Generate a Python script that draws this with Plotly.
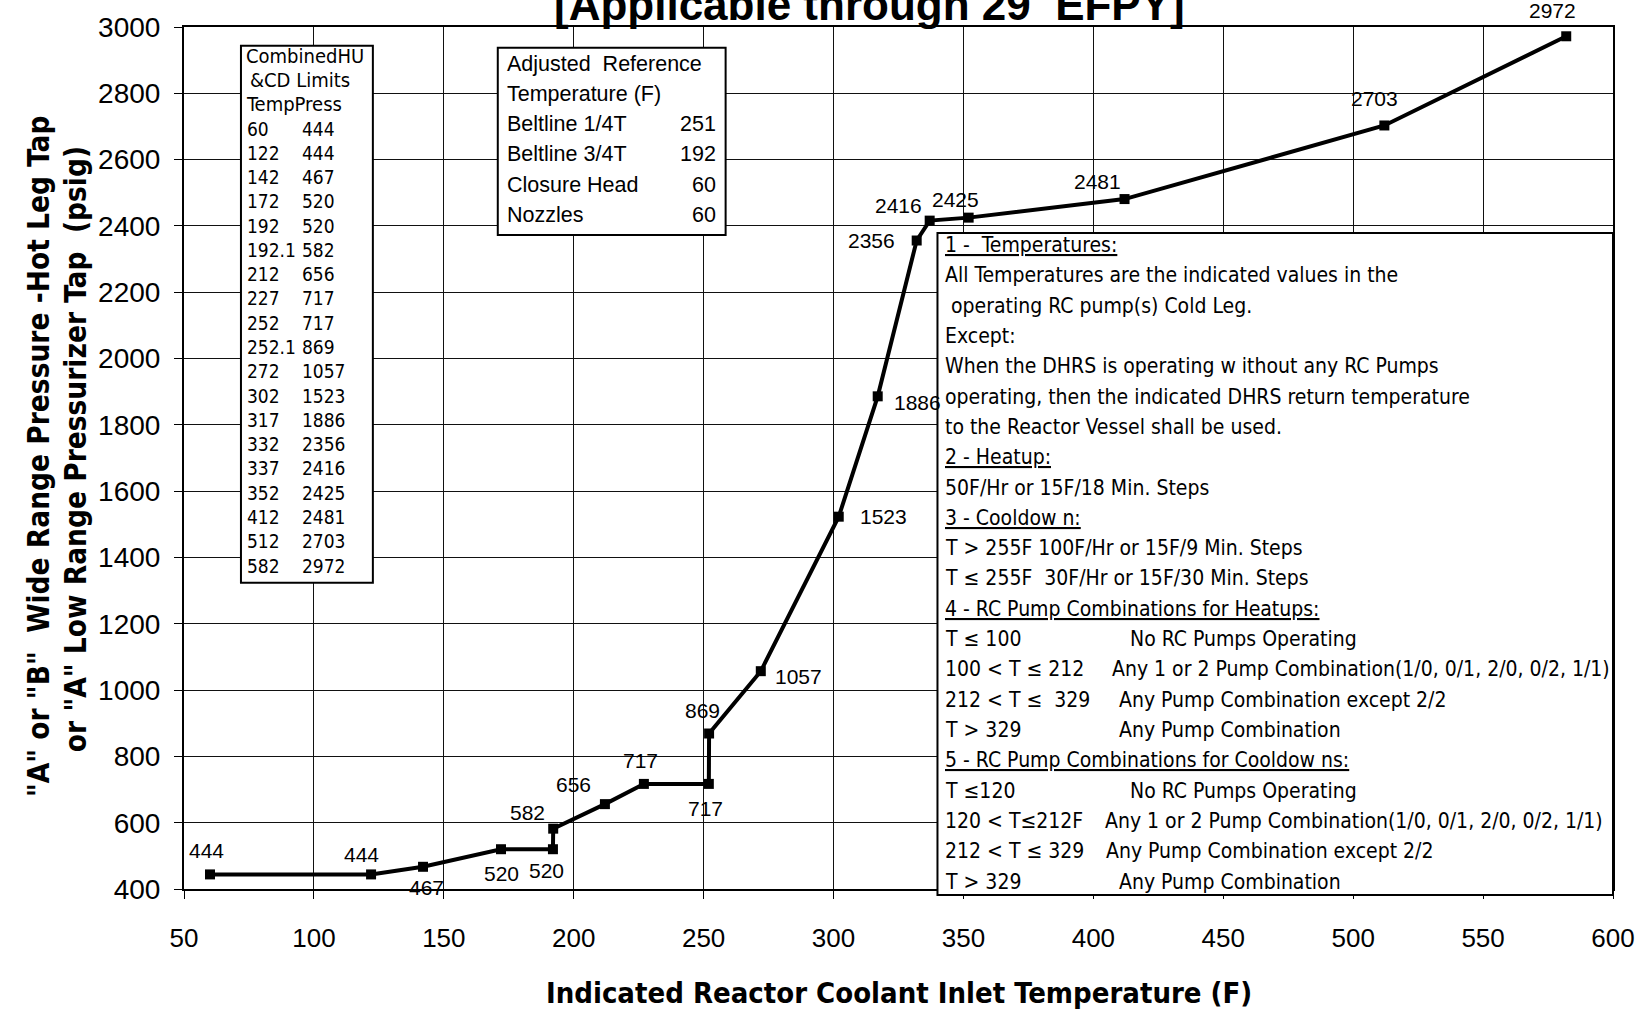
import plotly.graph_objects as go

# ---------------- data ----------------
temps = [60, 122, 142, 172, 192, 192.1, 212, 227, 252, 252.1, 272, 302, 317, 332, 337, 352, 412, 512, 582]
press = [444, 444, 467, 520, 520, 582, 656, 717, 717, 869, 1057, 1523, 1886, 2356, 2416, 2425, 2481, 2703, 2972]
temp_labels = ["60", "122", "142", "172", "192", "192.1", "212", "227", "252", "252.1", "272", "302", "317",
               "332", "337", "352", "412", "512", "582"]

x_ticks = [50, 100, 150, 200, 250, 300, 350, 400, 450, 500, 550, 600]
y_ticks = [400, 600, 800, 1000, 1200, 1400, 1600, 1800, 2000, 2200, 2400, 2600, 2800, 3000]

ref_names = ["Beltline 1/4T", "Beltline 3/4T", "Closure Head", "Nozzles"]
ref_values = [251, 192, 60, 60]

title_text = "[Applicable through 29  EFPY]"
x_title = "Indicated Reactor Coolant Inlet Temperature (F)"
y_title_1 = '"A" or "B"  Wide Range Pressure -Hot Leg Tap'
y_title_2 = 'or "A" Low Range Pressurizer Tap  (psig)'

notes = [
    ("<u>1 -  Temperatures:</u>", ""),
    ("All Temperatures are the indicated values in the", ""),
    (" operating RC pump(s) Cold Leg.", ""),
    ("Except:", ""),
    ("When the DHRS is operating w ithout any RC Pumps", ""),
    ("operating, then the indicated DHRS return temperature", ""),
    ("to the Reactor Vessel shall be used.", ""),
    ("<u>2 - Heatup:</u>", ""),
    ("50F/Hr or 15F/18 Min. Steps", ""),
    ("<u>3 - Cooldow n:</u>", ""),
    ("T &gt; 255F 100F/Hr or 15F/9 Min. Steps", ""),
    ("T ≤ 255F  30F/Hr or 15F/30 Min. Steps", ""),
    ("<u>4 - RC Pump Combinations for Heatups:</u>", ""),
    ("T ≤ 100", "No RC Pumps Operating"),
    ("100 &lt; T ≤ 212", "Any 1 or 2 Pump Combination(1/0, 0/1, 2/0, 0/2, 1/1)"),
    ("212 &lt; T ≤  329", "Any Pump Combination except 2/2"),
    ("T &gt; 329", "Any Pump Combination"),
    ("<u>5 - RC Pump Combinations for Cooldow ns:</u>", ""),
    ("T ≤120", "No RC Pumps Operating"),
    ("120 &lt; T≤212F", "Any 1 or 2 Pump Combination(1/0, 0/1, 2/0, 0/2, 1/1)"),
    ("212 &lt; T ≤ 329", "Any Pump Combination except 2/2"),
    ("T &gt; 329", "Any Pump Combination"),
]

# ---------------- style / layout constants ----------------
W, H = 1647, 1015
OFFY = 4  # vertical compensation
L, R, T, B = 184, 1614, 23 - OFFY, 893 - OFFY
PW, PH = R - L, B - T

ARIAL = "Liberation Sans, Arial, Helvetica, sans-serif"
NARROW = "Liberation Sans Narrow, Arial Narrow, DejaVu Sans Condensed, Liberation Sans, sans-serif"

# label offsets (pixels) for point labels
label_dx = [-3, -10, 3, 1, -6, -26, -31, -3, -3, -7, 38, 45, 40, -45, -31, -13, -27, -10, -14]
label_dy = [24, 20, -21, -24, -21, 16, 20, 23, -25, 23, -5, 0, -6, 0, 15, 18, 18, 27, 26]
# columns for the pump-combination second column (pixels)
note_col2 = [None] * 13 + [1129, 1111, 1118, 1118, None, 1129, 1104, 1105, 1118]


def px(xp):
    return (xp - L) / PW


def py(yp):
    return (B - (yp - OFFY)) / PH


fig = go.Figure()
fig.add_trace(go.Scatter(
    x=temps, y=press, mode="lines+markers",
    line=dict(color="black", width=4),
    marker=dict(symbol="square", size=10, color="black"),
    hoverinfo="x+y", showlegend=False,
))

annotations = []
shapes = []

# point labels
for t, p, dx, dy in zip(temps, press, label_dx, label_dy):
    annotations.append(dict(x=t, y=p, xref="x", yref="y", text=str(p), showarrow=False,
                            xshift=dx, yshift=dy, font=dict(family=ARIAL, size=21, color="black")))

# ---- Combined HU/CD limits table box ----
shapes.append(dict(type="rect", xref="paper", yref="paper", x0=px(241), x1=px(373), y0=py(42), y1=py(584),
                   line=dict(color="black", width=2), fillcolor="white", layer="above"))
head = ["CombinedHU", "&amp;CD Limits", "TempPress"]
row_h = 24.5
y0_tab = 52
for i, h in enumerate(head):
    annotations.append(dict(x=px(244 if i != 1 else 248), y=py(y0_tab + i * row_h), xref="paper", yref="paper",
                            text=h, showarrow=False, xanchor="left", yanchor="middle",
                            font=dict(family=NARROW, size=20, color="black")))
for j, (tl, p) in enumerate(zip(temp_labels, press)):
    yy = y0_tab + (j + 3) * row_h
    annotations.append(dict(x=px(245), y=py(yy), xref="paper", yref="paper", text=tl, showarrow=False,
                            xanchor="left", yanchor="middle", font=dict(family=NARROW, size=19, color="black")))
    annotations.append(dict(x=px(300), y=py(yy), xref="paper", yref="paper", text=str(p), showarrow=False,
                            xanchor="left", yanchor="middle", font=dict(family=NARROW, size=19, color="black")))

# ---- Adjusted reference temperature box ----
shapes.append(dict(type="rect", xref="paper", yref="paper", x0=px(498), x1=px(726), y0=py(44), y1=py(233),
                   line=dict(color="black", width=2), fillcolor="white", layer="above"))
ref_head = ["Adjusted  Reference", "Temperature (F)"]
ref_y0, ref_h = 60, 30.5
for i, h in enumerate(ref_head):
    annotations.append(dict(x=px(505), y=py(ref_y0 + i * ref_h), xref="paper", yref="paper", text=h,
                            showarrow=False, xanchor="left", yanchor="middle",
                            font=dict(family=ARIAL, size=21.5, color="black")))
for j, (n, v) in enumerate(zip(ref_names, ref_values)):
    yy = ref_y0 + (j + 2) * ref_h
    annotations.append(dict(x=px(505), y=py(yy), xref="paper", yref="paper", text=n, showarrow=False,
                            xanchor="left", yanchor="middle", font=dict(family=ARIAL, size=21.5, color="black")))
    annotations.append(dict(x=px(718), y=py(yy), xref="paper", yref="paper", text=str(v), showarrow=False,
                            xanchor="right", yanchor="middle", font=dict(family=ARIAL, size=21.5, color="black")))

# ---- Notes box ----
shapes.append(dict(type="rect", xref="paper", yref="paper", x0=px(938), x1=px(1614), y0=py(231), y1=py(899),
                   line=dict(color="black", width=2), fillcolor="white", layer="above"))
note_y0, note_h = 243, 30.6
for i, ((c1, c2), xc2) in enumerate(zip(notes, note_col2)):
    yy = note_y0 + i * note_h
    annotations.append(dict(x=px(944), y=py(yy), xref="paper", yref="paper", text=c1, showarrow=False,
                            xanchor="left", yanchor="middle", font=dict(family=NARROW, size=21, color="black")))
    if c2:
        annotations.append(dict(x=px(xc2), y=py(yy), xref="paper", yref="paper", text=c2, showarrow=False,
                                xanchor="left", yanchor="middle", font=dict(family=NARROW, size=21, color="black")))

# ---- titles ----
annotations.append(dict(x=px(870), y=py(27), xref="paper", yref="paper", text="<b>" + title_text + "</b>",
                        showarrow=False, xanchor="center", yanchor="bottom",
                        font=dict(family=ARIAL, size=44, color="black")))
annotations.append(dict(x=px(900), y=py(998), xref="paper", yref="paper", text="<b>" + x_title + "</b>",
                        showarrow=False, xanchor="center", yanchor="middle",
                        font=dict(family=NARROW, size=29, color="black")))
annotations.append(dict(x=px(39), y=py(456), xref="paper", yref="paper", text="<b>" + y_title_1 + "</b>",
                        showarrow=False, xanchor="center", yanchor="middle", textangle=-90,
                        font=dict(family=NARROW, size=29.5, color="black")))
annotations.append(dict(x=px(76), y=py(449), xref="paper", yref="paper", text="<b>" + y_title_2 + "</b>",
                        showarrow=False, xanchor="center", yanchor="middle", textangle=-90,
                        font=dict(family=NARROW, size=29.5, color="black")))

fig.update_layout(
    width=W, height=H,
    margin=dict(l=L, r=W - R, t=T, b=H - B, pad=0),
    paper_bgcolor="white", plot_bgcolor="white",
    showlegend=False,
    annotations=annotations, shapes=shapes,
    xaxis=dict(range=[50, 600], tickvals=x_ticks, ticktext=[str(v) for v in x_ticks],
               showgrid=True, gridcolor="#111", gridwidth=1, zeroline=False,
               showline=True, linecolor="black", linewidth=2, mirror=True, layer="below traces",
               ticks="outside", ticklen=8, tickcolor="black", tickwidth=1,
               ticklabelstandoff=17, tickfont=dict(family=ARIAL, size=26, color="black")),
    yaxis=dict(range=[400, 3000], tickvals=y_ticks, ticktext=[str(v) for v in y_ticks],
               showgrid=True, gridcolor="#111", gridwidth=1, zeroline=False,
               showline=True, linecolor="black", linewidth=2, mirror=True,
               ticks="outside", ticklen=8, tickcolor="black", tickwidth=1,
               ticklabelstandoff=8, tickfont=dict(family=ARIAL, size=28, color="black")),
)

fig.write_html("out.html", config={"displayModeBar": False},
               post_script="document.body.style.margin='0px';")
